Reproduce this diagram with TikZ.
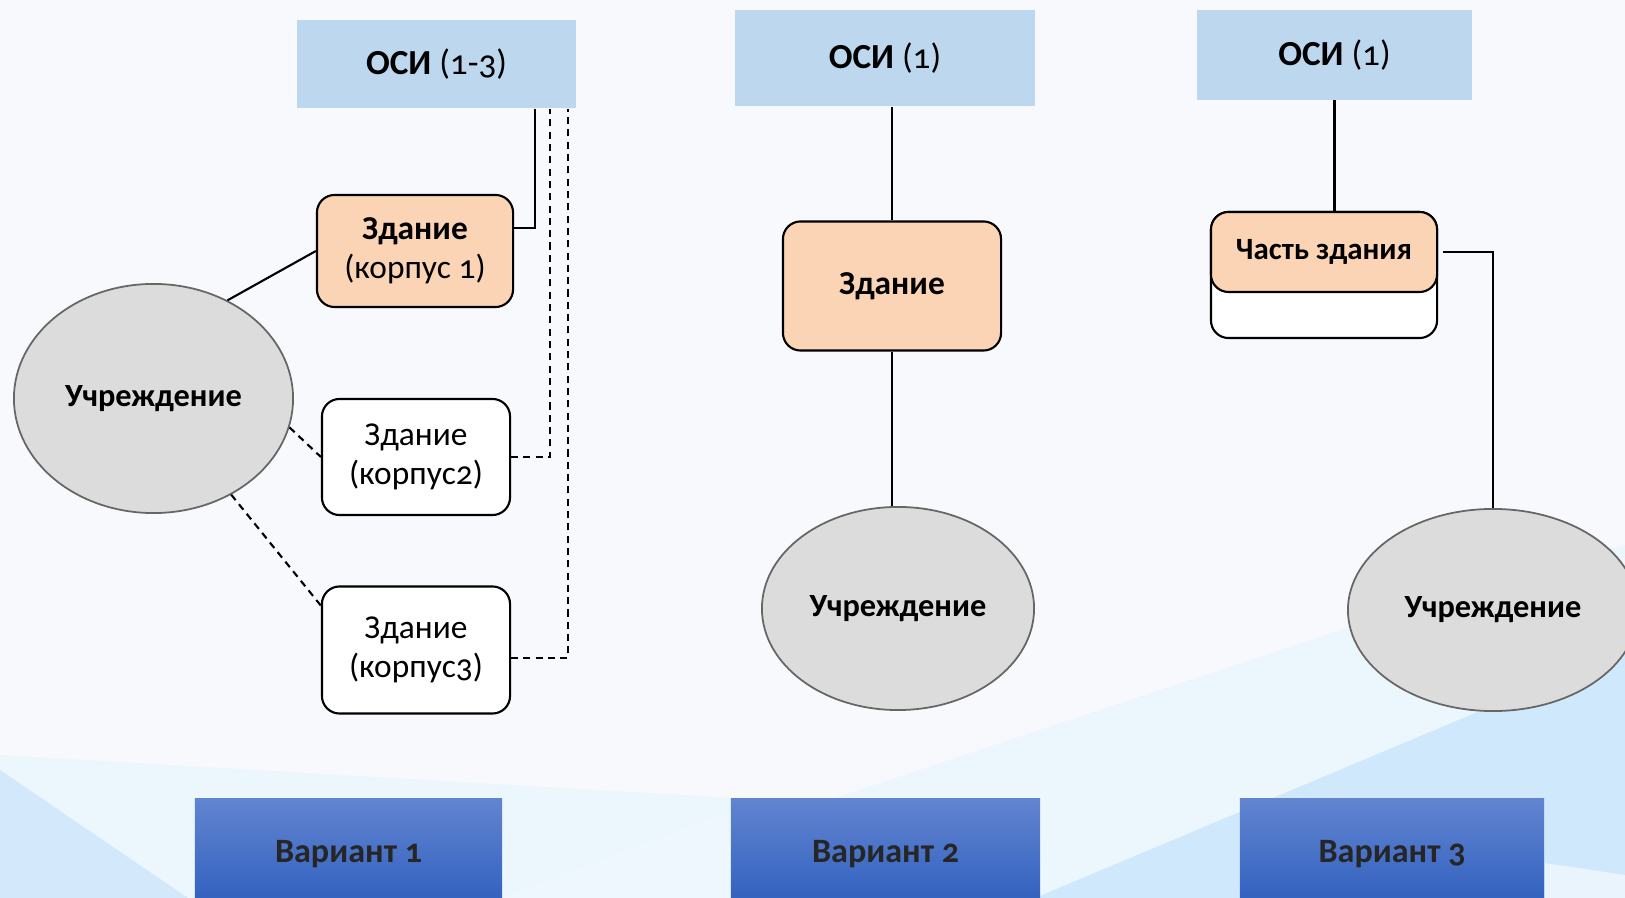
\documentclass[tikz,border=0pt]{standalone}
\usepackage{fontspec}
\setmainfont{Carlito}[Numbers=OldStyle]
\usetikzlibrary{shapes.geometric,calc}

\definecolor{osiblue}{RGB}{189,215,238}
\definecolor{peach}{RGB}{250,212,180}
\definecolor{instgray}{RGB}{220,220,220}
\definecolor{bgwhite}{RGB}{247,249,253}
\definecolor{bgblue}{RGB}{200,228,250}
\definecolor{vartop}{RGB}{98,132,208}
\definecolor{varbot}{RGB}{46,95,190}
\definecolor{txtdark}{RGB}{38,38,38}

\begin{document}
\begin{tikzpicture}[x=0.01cm, y=-0.01cm,
    font=\fontsize{9.5}{11.2}\selectfont,
    osi/.style={fill=osiblue, inner sep=0pt, font=\fontsize{10}{12}\selectfont},
    bldg/.style={draw, line width=0.6pt, rounded corners=5pt, align=center, inner sep=0pt},
    inst/.style={ellipse, draw=black!60, fill=instgray, line width=0.5pt, inner sep=0pt, font=\fontsize{9.2}{11}\selectfont\bfseries},
    variant/.style={top color=vartop, bottom color=varbot, minimum height=1.10cm, text=txtdark, font=\fontsize{9.7}{12}\selectfont\bfseries},
    link/.style={line width=0.6pt},
    dlink/.style={line width=0.6pt, dash pattern=on 2pt off 1.5pt}
]
    \useasboundingbox (0,0) rectangle (1625,898);
    \clip (0,0) rectangle (1625,898);

    % background
    \fill[bgwhite] (0,0) rectangle (1625,898);
    \fill[bgblue!35] (0,755) -- (820,803) -- (1349,627) -- (1625,545) -- (1625,898) -- (0,898) -- cycle;
    \fill[bgblue!30] (502,898) -- (732,810) -- (1035,898) -- cycle;
    \fill[bgblue!80] (0,770) -- (188,898) -- (0,898) -- cycle;
    \fill[bgblue!85] (1035,898) -- (1625,650) -- (1625,898) -- cycle;
    \fill[bgblue!40] (1545,863) -- (1625,875) -- (1625,898) -- (1545,898) -- cycle;

    % Variant 1
    \node[osi, minimum width=2.79cm, minimum height=0.88cm] (osiA) at (436.5,64) {\textbf{ОСИ} (1-3)};
    \node[bldg, fill=peach, minimum width=1.96cm, minimum height=1.12cm] (b1) at (415,251) {\textbf{Здание}\\(корпус 1)};
    \node[bldg, fill=white, minimum width=1.88cm, minimum height=1.16cm] (b2) at (416,457) {Здание\\(корпус2)};
    \node[bldg, fill=white, minimum width=1.88cm, minimum height=1.27cm] (b3) at (416,650) {Здание\\(корпус3)};
    \node[inst, minimum width=2.79cm, minimum height=2.29cm] (instA) at (153.5,398.5) {Учреждение};

    \draw[link] (b1.13) -| ($(osiA.south east)+(-42,0)$);
    \draw[dlink] (b2.east) -| ($(osiA.south east)+(-27,0)$);
    \draw[dlink] (b3.-5) -| ($(osiA.south east)+(-9,0)$);
    \draw[link] (instA.53) -- (b1.west);
    \draw[dlink] (instA.-12) -- (b2.west);
    \draw[dlink] (instA) -- (b3.155);

    % Variant 2
    \node[osi, minimum width=3.00cm, minimum height=0.96cm] (osiB) at (885,58) {\textbf{ОСИ} (1)};
    \node[bldg, fill=peach, minimum width=2.18cm, minimum height=1.29cm] (bB) at (892,286) {\textbf{Здание}};
    \node[inst, minimum width=2.72cm, minimum height=2.03cm] (instB) at (898,608.5) {Учреждение};

    \draw[link] (osiB.south -| bB.north) -- (bB.north);
    \draw[link] (bB.south) -- (bB.south |- instB.north);

    % Variant 3
    \node[osi, minimum width=2.75cm, minimum height=0.89cm] (osiC) at (1334.5,55) {\textbf{ОСИ} (1)};
    \node[bldg, fill=white, minimum width=2.26cm, minimum height=1.26cm] (partC) at (1324,275) {};
    \node[bldg, fill=peach, minimum width=2.26cm, minimum height=0.80cm, font=\fontsize{8.8}{10.5}\selectfont] (partTop) at (1324,252) {\textbf{Часть здания}};
    \node[inst, minimum width=2.90cm, minimum height=2.02cm] (instC) at (1493,610) {Учреждение};

    \draw[link] (osiC.south) -- (osiC.south |- partTop.north);
    \draw[link] ($(partTop.east)+(5,0)$) -| (instC.north);

    % variant labels
    \node[variant, minimum width=3.07cm] (varA) at (348.5,854) {Вариант 1};
    \node[variant, minimum width=3.09cm] (varB) at (885.5,854) {Вариант 2};
    \node[variant, minimum width=3.04cm] (varC) at (1392,854) {Вариант 3};
\end{tikzpicture}
\end{document}
